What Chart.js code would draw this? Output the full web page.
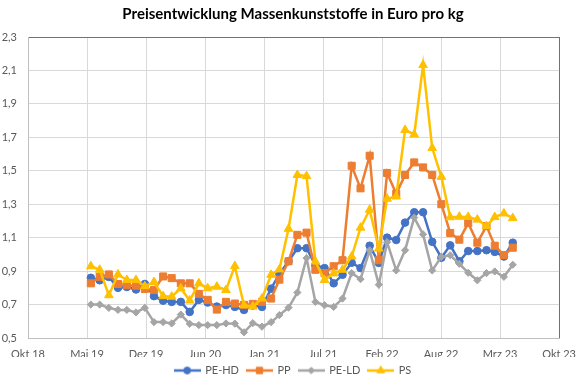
<!DOCTYPE html>
<html>
<head>
<meta charset="utf-8">
<script src="https://cdn.jsdelivr.net/npm/chart.js@4"></script>
<style>
  html, body { margin: 0; padding: 0; background: #fff; }
</style>
</head>
<body>
<canvas id="chart" width="586" height="386"></canvas>
<script>
// monthly prices, Jun 2019 .. May 2023
const firstMonth = { year: 2019, month: 6 };

const peHd = [0.86, 0.845, 0.865, 0.80, 0.805, 0.79, 0.823, 0.75, 0.723, 0.716,
  0.716, 0.656, 0.728, 0.712, 0.688, 0.697, 0.686, 0.668, 0.694, 0.686,
  0.795, 0.883, 0.959, 1.037, 1.037, 0.935, 0.918, 0.827, 0.878, 0.95,
  0.918, 1.052, 0.949, 1.10, 1.086, 1.19, 1.252, 1.252, 1.075, 0.98,
  1.054, 0.959, 1.02, 1.02, 1.025, 1.015, 0.987, 1.07];

const pp = [0.827, 0.866, 0.88, 0.823, 0.816, 0.813, 0.793, 0.788, 0.868, 0.858,
  0.827, 0.827, 0.764, 0.728, 0.67, 0.716, 0.706, 0.698, 0.704, 0.716,
  0.736, 0.849, 0.959, 1.117, 1.13, 0.908, 0.888, 0.929, 0.965, 1.53,
  1.395, 1.59, 0.965, 1.487, 1.363, 1.475, 1.55, 1.52, 1.475, 1.30,
  1.128, 1.088, 1.187, 1.07, 1.169, 1.052, 0.996, 1.04];

const peLd = [0.70, 0.70, 0.68, 0.668, 0.668, 0.653, 0.68, 0.595, 0.595, 0.587,
  0.64, 0.585, 0.577, 0.577, 0.577, 0.587, 0.586, 0.534, 0.589, 0.568,
  0.595, 0.637, 0.682, 0.772, 0.978, 0.716, 0.696, 0.686, 0.736, 0.888,
  0.852, 1.024, 0.819, 1.073, 0.904, 1.025, 1.22, 1.12, 0.904, 0.985,
  0.995, 0.944, 0.89, 0.845, 0.888, 0.898, 0.866, 0.938];

const ps = [0.929, 0.908, 0.756, 0.88, 0.847, 0.847, 0.81, 0.835, 0.75, 0.747,
  0.797, 0.724, 0.827, 0.797, 0.807, 0.787, 0.93, 0.696, 0.688, 0.736,
  0.878, 0.91, 1.153, 1.475, 1.468, 0.957, 0.847, 0.886, 0.908, 0.987,
  1.16, 1.267, 1.035, 1.333, 1.346, 1.744, 1.717, 2.132, 1.636, 1.464,
  1.222, 1.225, 1.224, 1.208, 1.169, 1.223, 1.245, 1.217];

const xTickLabels = ['Okt 18', 'Mai 19', 'Dez 19', 'Jun 20', 'Jan 21', 'Jul 21', 'Feb 22', 'Aug 22', 'Mrz 23', 'Okt 23'];
const xAxisStart = Date.UTC(2018, 9, 31);
const xAxisStepDays = 200;

const DAY = 86400000;
const FONT = 'Lato';
const TEXT = '#595959';

function toPoints(values) {
  return values.map((v, i) => ({
    x: (Date.UTC(firstMonth.year, firstMonth.month - 1 + i, 1) - xAxisStart) / DAY,
    y: v,
  }));
}

function legendIcon(color, style, radius) {
  const c = document.createElement('canvas');
  c.width = 27;
  c.height = 12;
  const g = c.getContext('2d');
  g.strokeStyle = color;
  g.lineWidth = 2.5;
  g.beginPath();
  g.moveTo(0, 6);
  g.lineTo(27, 6);
  g.stroke();
  g.fillStyle = color;
  g.lineWidth = 1;
  Chart.helpers.drawPoint(g, { pointStyle: style, radius, rotation: 0, borderWidth: 1 }, 13.5, 6);
  return c;
}

const series = [
  { label: 'PE-HD', data: peHd, color: '#4472C4', style: 'circle', r: 3.8, order: 4 },
  { label: 'PP', data: pp, color: '#ED7D31', style: 'rect', r: 5, order: 3 },
  { label: 'PE-LD', data: peLd, color: '#A5A5A5', style: 'rectRot', r: 3.6, order: 2 },
  { label: 'PS', data: ps, color: '#FFC000', style: 'triangle', r: 5, order: 1 },
];

const icons = series.map((s) => legendIcon(s.color, s.style, s.r * 0.9));

new Chart(document.getElementById('chart'), {
  type: 'line',
  data: {
    datasets: series.map((s) => ({
      label: s.label,
      data: toPoints(s.data),
      borderColor: s.color,
      backgroundColor: s.color,
      borderWidth: 2.5,
      pointStyle: s.style,
      pointRadius: s.r,
      pointBorderWidth: 1,
      pointBackgroundColor: s.color,
      pointBorderColor: s.color,
      tension: 0,
      order: s.order,
    })),
  },
  options: {
    responsive: false,
    animation: false,
    layout: { padding: 0 },
    plugins: {
      title: {
        display: true,
        text: 'Preisentwicklung Massenkunststoffe in Euro pro kg',
        color: '#000',
        font: { family: FONT, size: 15, weight: 'bold' },
        padding: { top: 5, bottom: 14 },
      },
      legend: {
        position: 'bottom',
        labels: {
          usePointStyle: true,
          pointStyleWidth: 25,
          padding: 8,
          color: TEXT,
          font: { family: FONT, size: 11 },
          sort: (a, b) => a.datasetIndex - b.datasetIndex,
          generateLabels: (chart) =>
            Chart.defaults.plugins.legend.labels.generateLabels(chart).map((l) => {
              l.pointStyle = icons[l.datasetIndex];
              return l;
            }),
        },
      },
      tooltip: { enabled: false },
    },
    scales: {
      x: {
        type: 'linear',
        min: 0,
        max: xAxisStepDays * (xTickLabels.length - 1),
        afterFit: (scale) => { scale.height = 19; },
        ticks: {
          stepSize: xAxisStepDays,
          autoSkip: false,
          maxRotation: 0,
          padding: 10,
          color: TEXT,
          font: { family: FONT, size: 11 },
          callback: (v) => xTickLabels[Math.round(v / xAxisStepDays)],
        },
        grid: {
          drawTicks: false,
          color: (ctx) => (ctx.index === xTickLabels.length - 1 ? '#5873A6' : '#D9D9D9'),
        },
        border: { color: '#BFBFBF' },
      },
      y: {
        min: 0.5,
        max: 2.3,
        afterFit: (scale) => { scale.width = 28; },
        ticks: {
          stepSize: 0.2,
          padding: 11,
          color: TEXT,
          font: { family: FONT, size: 11 },
          callback: (v) => v.toFixed(1).replace('.', ','),
        },
        grid: {
          drawTicks: false,
          color: (ctx) => (ctx.index === 9 ? '#5873A6' : '#D9D9D9'),
        },
        border: { color: '#BFBFBF' },
      },
      // empty right-hand strip so the plot ends where the reference does
      yRight: {
        position: 'right',
        min: 0.5,
        max: 2.3,
        afterFit: (scale) => { scale.width = 21; },
        ticks: { display: false },
        grid: { display: false },
        border: { display: false },
      },
    },
  },
});
</script>
</body>
</html>
